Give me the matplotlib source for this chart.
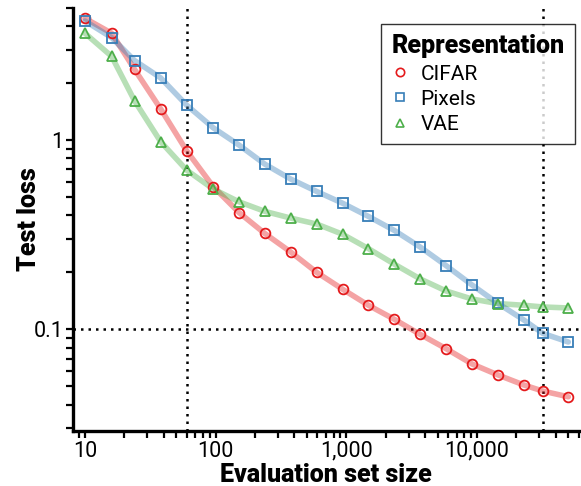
import matplotlib
matplotlib.use("Agg")
import matplotlib.pyplot as plt
import matplotlib.ticker as mticker
from matplotlib.lines import Line2D
import numpy as np

plt.rcParams['font.family'] = ['Roboto', 'DejaVu Sans']

# evaluation set sizes (log spaced, 10 .. 50,000)
set_size = [10, 16, 24, 38, 60, 96, 151, 238, 376, 594, 936, 1477, 2331, 3680,
            5810, 9170, 14480, 22850, 31900, 50000]

cifar = [4.40, 3.67, 2.36, 1.46, 0.878, 0.567, 0.414, 0.321, 0.256, 0.200,
         0.163, 0.134, 0.113, 0.094, 0.079, 0.0656, 0.0574, 0.0508, 0.0472, 0.0440]
pixels = [4.26, 3.48, 2.63, 2.13, 1.53, 1.16, 0.941, 0.746, 0.622, 0.535,
          0.464, 0.395, 0.333, 0.272, 0.217, 0.1715, 0.137, 0.112, 0.0952, 0.0857]
vae = [3.67, 2.77, 1.61, 0.98, 0.694, 0.551, 0.472, 0.420, 0.387, 0.360,
       0.318, 0.267, 0.221, 0.1846, 0.1594, 0.1446, 0.1368, 0.134, 0.1313, 0.1297]

ref_sizes = [set_size[4], set_size[18]]
ref_loss = 0.1

series = [("CIFAR", cifar, "#e41a1c", "o"),
          ("Pixels", pixels, "#377eb8", "s"),
          ("VAE", vae, "#4daf4a", "^")]

fig = plt.figure(figsize=(5.81, 4.86), dpi=100)
ax = fig.add_axes([0.1256, 0.113, 0.872, 0.871])

for name, vals, col, mk in series:
    ax.plot(set_size, vals, color=col, alpha=0.4, lw=4.0, solid_capstyle='round', zorder=2)
    ax.plot(set_size, vals, ls='none', marker=mk, ms=7, mfc='none', mec=col, mew=1.3, zorder=3)

for xv in ref_sizes:
    ax.axvline(xv, color='black', ls=(0, (1, 2)), lw=1.8, zorder=1)
ax.axhline(ref_loss, color='black', ls=(0, (1, 2)), lw=1.8, zorder=1)

ax.set_xscale('log')
ax.set_yscale('log')
ax.set_xlim(8.1, 61000)
ax.set_ylim(0.029, 5.0)

ax.xaxis.set_major_formatter(mticker.FuncFormatter(lambda v, p: f"{v:,.0f}"))
ax.yaxis.set_major_formatter(mticker.FuncFormatter(lambda v, p: f"{v:g}"))
ax.xaxis.set_minor_formatter(mticker.NullFormatter())
ax.yaxis.set_minor_formatter(mticker.NullFormatter())

for s in ['top', 'right']:
    ax.spines[s].set_visible(False)
for s in ['left', 'bottom']:
    ax.spines[s].set_linewidth(2.4)

ax.tick_params(which='both', direction='out', length=5, width=1.6, labelsize=15.5, pad=2)

ax.set_xlabel("Evaluation set size", fontsize=18, fontweight='heavy', labelpad=1)
ax.set_ylabel("Test loss", fontsize=18, fontweight='heavy')
ax.yaxis.set_label_coords(-0.064, 0.5)

handles = [Line2D([], [], ls='none', marker=mk, ms=6, mfc='none', mec=col, mew=1.2)
           for _, _, col, mk in series]
leg = ax.legend(handles, [s[0] for s in series], title="Representation",
                loc='upper right', bbox_to_anchor=(0.991, 0.962), borderaxespad=0,
                fontsize=15,
                title_fontproperties={'weight': 'heavy', 'size': 18},
                frameon=True, fancybox=False, edgecolor='black',
                handlelength=0.8, handletextpad=0.6, labelspacing=0.3,
                borderpad=0.5)
leg.get_frame().set_linewidth(1.0)
leg._legend_box.align = "left"

fig.savefig("out.png", dpi=100)
